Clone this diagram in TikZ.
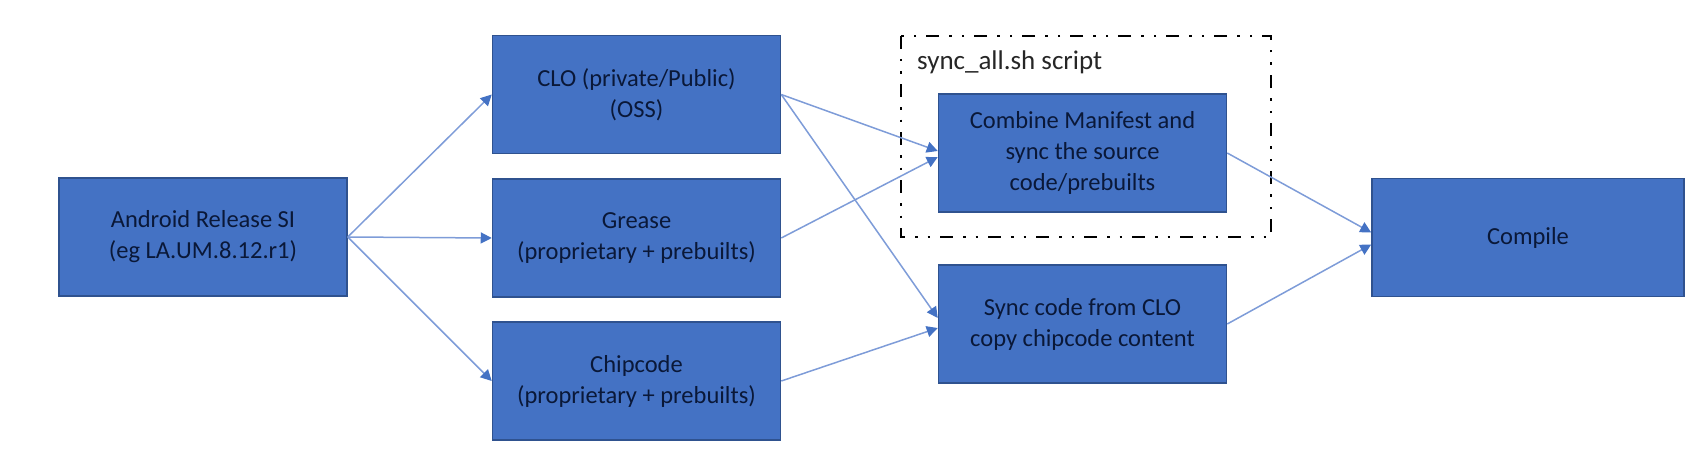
\documentclass[tikz,border=0pt]{standalone}
\usepackage{fontspec}
\setmainfont{Carlito}
\usetikzlibrary{arrows.meta}
\definecolor{boxblue}{HTML}{4472C4}
\definecolor{boxedge}{HTML}{2F528F}
\definecolor{txtnavy}{HTML}{0A1838}
\definecolor{arrowblue}{HTML}{7E9CD8}
\tikzset{
  blockbox/.style={draw=boxedge, line width=1.5pt, fill=boxblue, minimum width=288pt, minimum height=118pt,
    align=center, text=txtnavy, font=\fontsize{24.5}{31}\selectfont, inner sep=0pt},
  conn/.style={draw=arrowblue, line width=1.5pt, -{Triangle[length=11pt,width=11pt,color=boxblue]}},
  scriptframe/.style={draw=black, line width=2.2pt, dash pattern=on 13pt off 10pt on 2.5pt off 10pt on 2.5pt off 10pt}
}
\begin{document}
\begin{tikzpicture}[x=1pt,y=-1pt]
\useasboundingbox (0,0) rectangle (1689,452);
% dashed group frame
\draw[scriptframe] (901,36) rectangle (1271,237);
\node[anchor=base west, text=black!85, font=\fontsize{27}{32}\selectfont, inner sep=0pt] (lbl) at (917,70) {sync\_all.sh script};
% boxes
\node[blockbox] (android) at (203,237) {Android Release SI\\(eg LA.UM.8.12.r1)};
\node[blockbox] (clo) at (636.5,94.5) {CLO (private/Public)\\(OSS)};
\node[blockbox] (grease) at (636.5,238) {Grease\\(proprietary + prebuilts)};
\node[blockbox] (chip) at (636.5,381) {Chipcode\\(proprietary + prebuilts)};
\node[blockbox] (comb) at (1082.5,153) {Combine Manifest and\\sync the source\\code/prebuilts};
\node[blockbox] (sync) at (1082.5,324) {Sync code from CLO\\copy chipcode content};
\node[blockbox, minimum width=312pt] (compile) at (1528,237.5) {Compile};
% connectors
\draw[conn] (android.east) -- (clo.west);
\draw[conn] (android.east) -- (grease.west);
\draw[conn] (android.east) -- (chip.west);
\draw[conn] (clo.east) -- ([yshift=2pt]comb.west);
\draw[conn] (grease.east) -- ([yshift=-4pt]comb.west);
\draw[conn] (clo.east) -- ([yshift=6pt]sync.west);
\draw[conn] (chip.east) -- ([yshift=-4pt]sync.west);
\draw[conn] (comb.east) -- ([yshift=5pt]compile.west);
\draw[conn] (sync.east) -- ([yshift=-7pt]compile.west);
\end{tikzpicture}
\end{document}
